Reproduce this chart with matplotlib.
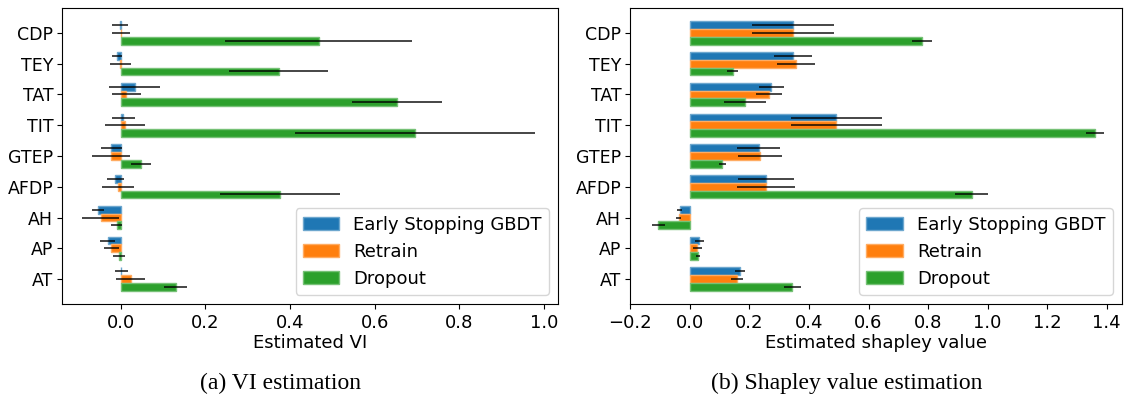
import matplotlib
matplotlib.use("Agg")
import matplotlib.pyplot as plt
from matplotlib.colors import to_rgb
import numpy as np

features = ["CDP", "TEY", "TAT", "TIT", "GTEP", "AFDP", "AH", "AP", "AT"]
methods = ["Early Stopping GBDT", "Retrain", "Dropout"]
colors = ["#1f77b4", "#ff7f0e", "#2ca02c"]

# Variable importance estimates (mean and error half-width)
vi_gbdt = [-0.002, -0.008, 0.033, 0.006, -0.022, -0.012, -0.053, -0.030, 0.002]
vi_gbdt_err = [0.019, 0.012, 0.061, 0.027, 0.025, 0.021, 0.014, 0.018, 0.016]
vi_retrain = [0.002, -0.001, 0.014, 0.011, -0.022, -0.006, -0.047, -0.022, 0.024]
vi_retrain_err = [0.021, 0.025, 0.034, 0.047, 0.045, 0.037, 0.043, 0.018, 0.034]
vi_dropout = [0.468, 0.373, 0.653, 0.696, 0.048, 0.376, -0.009, -0.003, 0.130]
vi_dropout_err = [0.221, 0.117, 0.106, 0.283, 0.024, 0.142, 0.013, 0.014, 0.028]

# Shapley value estimates (mean and error half-width)
sv_gbdt = [0.347, 0.346, 0.273, 0.491, 0.231, 0.256, -0.035, 0.032, 0.169]
sv_gbdt_err = [0.137, 0.064, 0.042, 0.153, 0.072, 0.094, 0.008, 0.015, 0.017]
sv_retrain = [0.346, 0.357, 0.266, 0.491, 0.236, 0.256, -0.038, 0.025, 0.158]
sv_retrain_err = [0.139, 0.063, 0.043, 0.153, 0.073, 0.097, 0.008, 0.014, 0.020]
sv_dropout = [0.780, 0.144, 0.186, 1.360, 0.109, 0.946, -0.106, 0.027, 0.344]
sv_dropout_err = [0.034, 0.019, 0.071, 0.030, 0.012, 0.054, 0.021, 0.008, 0.028]

plt.rcParams["font.family"] = "DejaVu Sans"

fig = plt.figure(figsize=(11.27, 3.98), dpi=100)
ax1 = fig.add_axes([0.0547, 0.2362, 0.4405, 0.7437])
ax2 = fig.add_axes([0.5587, 0.2362, 0.4366, 0.7437])

bar_h = 0.25
offsets = [-0.25, 0.0, 0.25]
ypos = np.arange(len(features))


def lighten(c, amount=0.35):
    r, g, b = to_rgb(c)
    return (r + (1 - r) * amount, g + (1 - g) * amount, b + (1 - b) * amount)


def draw_panel(ax, series, errors, xlabel, xlim):
    for k, (vals, errs) in enumerate(zip(series, errors)):
        ax.barh(ypos + offsets[k], vals, height=bar_h, xerr=errs,
                color=colors[k], edgecolor=lighten(colors[k]), linewidth=1.0,
                label=methods[k],
                error_kw=dict(ecolor=(0, 0, 0, 0.85), elinewidth=1.2,
                              capsize=0))
    ax.set_yticks(ypos)
    ax.set_yticklabels(features)
    ax.invert_yaxis()
    ax.set_xlim(*xlim)
    ax.tick_params(axis="x", labelsize=13)
    ax.tick_params(axis="y", labelsize=12.5, pad=2.5)
    ax.set_xlabel(xlabel, fontsize=13, labelpad=2)
    ax.legend(loc="lower right", fontsize=13)


draw_panel(ax1, [vi_gbdt, vi_retrain, vi_dropout],
           [vi_gbdt_err, vi_retrain_err, vi_dropout_err],
           "Estimated VI", (-0.139, 1.033))
ax1.set_xticks([0.0, 0.2, 0.4, 0.6, 0.8, 1.0])

draw_panel(ax2, [sv_gbdt, sv_retrain, sv_dropout],
           [sv_gbdt_err, sv_retrain_err, sv_dropout_err],
           "Estimated shapley value", (-0.2026, 1.4506))
ax2.set_xticks([-0.2, 0.0, 0.2, 0.4, 0.6, 0.8, 1.0, 1.2, 1.4])

fig.text(0.249, 0.0377, "(a) VI estimation", ha="center", va="center",
         fontsize=17, family="Liberation Serif")
fig.text(0.751, 0.0377, "(b) Shapley value estimation", ha="center",
         va="center", fontsize=17, family="Liberation Serif")

fig.savefig("out.png", dpi=100)
